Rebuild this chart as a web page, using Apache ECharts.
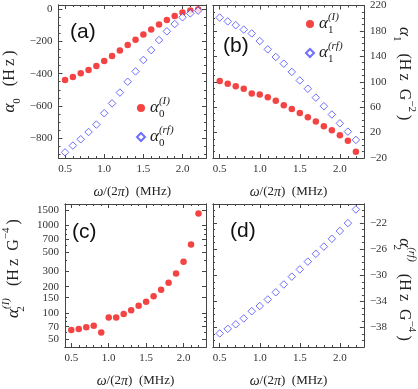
<!DOCTYPE html>
<html>
<head>
<meta charset="utf-8">
<script src="https://cdn.jsdelivr.net/npm/echarts@6/dist/echarts.min.js"></script>
<style>
html, body { margin: 0; padding: 0; background: #fff; }
#chart { width: 418px; height: 389px; }
</style>
</head>
<body>
<div id="chart"></div>
<script>
// 频率 ω/(2π), MHz
var freq = [0.5, 0.6, 0.7, 0.8, 0.9, 1.0, 1.1, 1.2, 1.3, 1.4, 1.5, 1.6, 1.7, 1.8, 1.9, 2.0, 2.1, 2.2];

// (a) α0
var alpha0I  = [-439, -420, -398, -377, -352, -322, -291, -256, -223, -190, -157, -126, -95, -68, -43, -21, -9, -3];
var alpha0rf = [-887, -845, -806, -761, -715, -645, -584, -517, -450, -386, -315, -254, -192, -138, -93, -51, -27, -10];
// (b) α1
var alpha1I  = [101, 97, 93, 89, 81.5, 80, 75.5, 70, 63, 57, 51, 44, 37.5, 30, 23.5, 16, 7, -10];
var alpha1rf = [201, 195, 189, 182, 176, 164, 151, 139, 128.5, 115.5, 102, 89, 75, 61.5, 48.5, 34.5, 21.5, 8.5];
// (c) α2^(I)，对数坐标
var alpha2I  = [64, 66, 69, 72, 60, 89, 89, 97.5, 108, 121, 135, 156, 184, 222, 282, 386, 604, 1368];
// (d) α2^(rf)
var alpha2rf = [-38.9, -38.2, -37.5, -36.6, -35.5, -34.7, -33.7, -32.6, -31.4, -30.2, -29.1, -27.9, -26.7, -25.6, -24.4, -23.2, -22.0, -19.9];

// 刻度
var xTicks    = [0.5, 1.0, 1.5, 2.0];
var a0Ticks   = [0, -200, -400, -600, -800];
var a1Ticks   = [-20, 20, 60, 100, 140, 180, 220];
var a2ITicks  = [50, 70, 100, 150, 200, 300, 500, 700, 1000, 1500];
var a2rfTicks = [-38, -34, -30, -26, -22];

// 次刻度
function steps(from, to, step, skip) {
  var out = [];
  for (var v = from; v <= to + 1e-9; v += step) {
    var r = Math.round(v * 1000) / 1000;
    if (skip.indexOf(r) === -1) out.push(r);
  }
  return out;
}
var xMinor    = steps(0.5, 2.2, 0.1, xTicks);
var a0Minor   = steps(-900, 0, 50, a0Ticks);
var a1Minor   = steps(-20, 220, 10, a1Ticks);
var a2IMinor  = [60, 80, 90, 400, 600, 800, 900];
var a2rfMinor = steps(-40, -20, 1, a2rfTicks);

var log10 = function (v) { return Math.log(v) / Math.LN10; };

var RED = '#f01414';
var BLUE = '#4a4aff';
var FRAME = '#444';
var TXT = '#222';
var SERIF = 'Liberation Serif';

// 坐标轴名称用的富文本（x 轴名小一些）
function richSet(big, small, lh) {
  return {
    g:   { fontFamily: SERIF, fontStyle: 'italic', fontSize: big + 1, color: TXT, lineHeight: lh },
    t:   { fontFamily: SERIF, fontSize: big, color: TXT, lineHeight: lh },
    sub: { fontFamily: SERIF, fontSize: small, color: TXT, verticalAlign: 'bottom', lineHeight: small + 1 },
    subz:{ fontFamily: SERIF, fontSize: small, color: TXT, verticalAlign: 'bottom', lineHeight: small + 1, width: 0 },
    sup: { fontFamily: SERIF, fontSize: small, color: TXT, verticalAlign: 'top', lineHeight: small + 1 },
    supi:{ fontFamily: SERIF, fontStyle: 'italic', fontSize: small, color: TXT, verticalAlign: 'top', lineHeight: small + 1 }
  };
}
var richX = richSet(13, 9, 20);
var richY = richSet(16, 11, 26);
var richL = richSet(16, 11, 24);

var xName = '{g|ω}{t|/(2}{g|π}{t|)  (MHz)}';

function minus(v) { return String(v).replace('-', '\u2212'); }

function axis(grid, position, min, max, ticks, len, label) {
  var a = {
    type: 'value', gridIndex: grid, position: position, min: min, max: max,
    axisLine: { show: true, onZero: false, lineStyle: { color: FRAME, width: 1 } },
    axisTick: { show: true, inside: true, length: len, customValues: ticks, lineStyle: { color: FRAME, width: 1 } },
    axisLabel: { show: false },
    splitLine: { show: false }
  };
  if (label) {
    a.axisLabel = {
      show: true, customValues: label.values, margin: label.margin || 6,
      fontFamily: SERIF, fontSize: 11, color: '#333',
      formatter: label.formatter || minus
    };
    a.name = label.name;
    a.nameLocation = 'middle';
    a.nameGap = label.nameGap;
    a.nameRotate = label.rotate;
    a.nameTextStyle = { rich: label.rich || richY, padding: label.pad || 0 };
  }
  return a;
}

var xAxes = [], yAxes = [];
function panel(grid, yMin, yMax, yMaj, yMin2, ySide, yLabel) {
  var xMin = 0.416, xMax = 2.3;
  xAxes.push(
    axis(grid, 'bottom', xMin, xMax, xTicks, 4, { values: xTicks, name: xName, nameGap: 24, rotate: 0, rich: richX,
      formatter: function (v) { return v.toFixed(1); } }),
    axis(grid, 'bottom', xMin, xMax, xMinor, 2),
    axis(grid, 'top', xMin, xMax, xTicks, 4),
    axis(grid, 'top', xMin, xMax, xMinor, 2)
  );
  var other = ySide === 'left' ? 'right' : 'left';
  yAxes.push(
    axis(grid, ySide, yMin, yMax, yMaj, 4, yLabel),
    axis(grid, ySide, yMin, yMax, yMin2, 2),
    axis(grid, other, yMin, yMax, yMaj, 4),
    axis(grid, other, yMin, yMax, yMin2, 2)
  );
}

panel(0, -922, 25, a0Ticks, a0Minor, 'left',
  { values: a0Ticks, name: '{g|α}{sub|0}{t|   (H\u2009z\u2009)}', nameGap: 36, rotate: 90 });
panel(1, -20, 220, a1Ticks, a1Minor, 'right',
  { values: a1Ticks, name: '{g|α}{sub|1}{t|   (H\u2009z  G}{sup|−2}{t|\u2009)}', nameGap: 23, rotate: -90,
    pad: [0, 16, 0, 0] });
panel(2, log10(41.1), log10(1751), a2ITicks.map(log10), a2IMinor.map(log10), 'left',
  { values: a2ITicks.map(log10), name: '{g|α}{subz|2}{supi|(I)}{t|   (H\u2009z  G}{sup|−4}{t|\u2009)}', nameGap: 38, rotate: 90,
    pad: [0, 0, 0, 14],
    formatter: function (v) { return String(Math.round(Math.pow(10, v))); } });
panel(3, -40.98, -19.07, a2rfTicks, a2rfMinor, 'right',
  { values: a2rfTicks, name: '{g|α}{subz|2}{supi|(rf)}{t|   (H\u2009z  G}{sup|−4}{t|\u2009)}', nameGap: 26, rotate: -90,
    pad: [0, 0, 0, 28] });

function pts(ys, f) {
  return freq.map(function (x, i) { return [x, f ? f(ys[i]) : ys[i]]; });
}
function dots(name, grid, ys, f) {
  return { name: name, type: 'scatter', xAxisIndex: grid * 4, yAxisIndex: grid * 4,
    symbol: 'circle', symbolSize: 6.5, itemStyle: { color: RED }, data: pts(ys, f) };
}
function diamonds(name, grid, ys) {
  return { name: name, type: 'scatter', xAxisIndex: grid * 4, yAxisIndex: grid * 4,
    symbol: 'diamond', symbolSize: 7.5,
    itemStyle: { color: '#fff', borderColor: BLUE, borderWidth: 1 }, data: pts(ys) };
}

var legendNames = {
  a0I:  '{g|α}{subz|0}{supi|(I)}',
  a0rf: '{g|α}{subz|0}{supi|(rf)}',
  a1I:  '{g|α}{subz|1}{supi|(I)}',
  a1rf: '{g|α}{subz|1}{supi|(rf)}'
};
function legend(names, left, top) {
  return {
    data: [{ name: names[0], icon: 'circle' }, { name: names[1], icon: 'diamond' }],
    orient: 'vertical', left: left, top: top, itemWidth: 8, itemHeight: 8, itemGap: 5,
    selectedMode: false, padding: 0,
    formatter: function (n) { return legendNames[n]; },
    textStyle: { rich: richL }
  };
}

function tag(text, x, y) {
  return { type: 'text', left: x, top: y,
    style: { text: text, fontFamily: 'Liberation Sans', fontSize: 21, fill: '#111' } };
}

var chart = echarts.init(document.getElementById('chart'));
chart.setOption({
  animation: false,
  grid: [
    { left: 55, top: 5, width: 151, height: 153 },
    { left: 213, top: 5, width: 153, height: 153 },
    { left: 55, top: 204, width: 151, height: 152 },
    { left: 213, top: 204, width: 153, height: 152 }
  ],
  xAxis: xAxes,
  yAxis: yAxes,
  legend: [legend(['a0I', 'a0rf'], 136, 96), legend(['a1I', 'a1rf'], 305, 12)],
  graphic: [tag('(a)', 70, 22), tag('(b)', 223, 36), tag('(c)', 72, 222), tag('(d)', 230, 221)],
  series: [
    dots('a0I', 0, alpha0I), diamonds('a0rf', 0, alpha0rf),
    dots('a1I', 1, alpha1I), diamonds('a1rf', 1, alpha1rf),
    dots('a2I', 2, alpha2I, log10),
    diamonds('a2rf', 3, alpha2rf)
  ]
});
</script>
</body>
</html>
